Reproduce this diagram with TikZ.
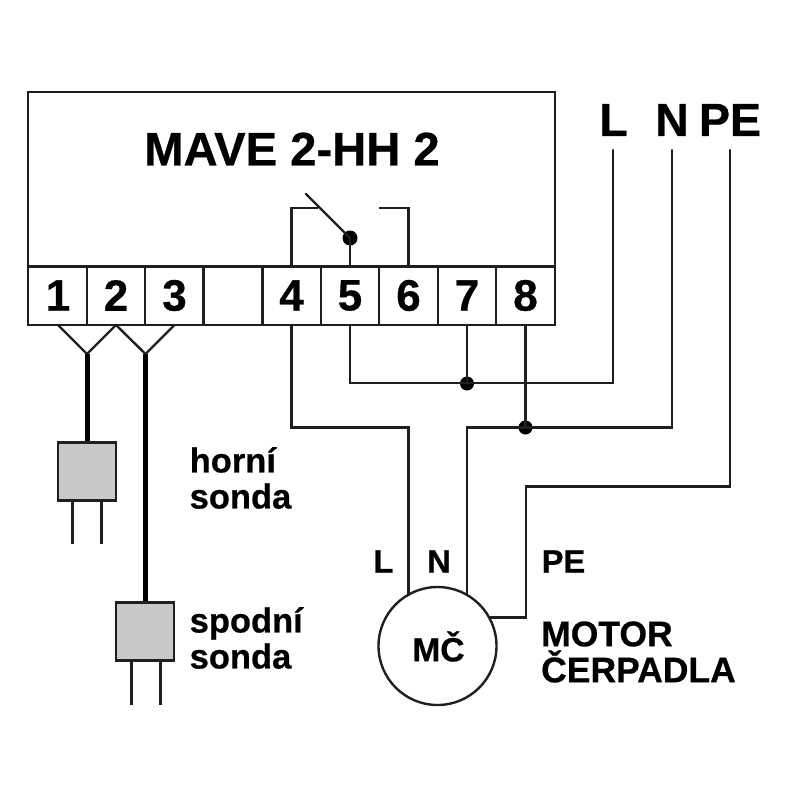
\documentclass[tikz,border=0pt]{standalone}
\usepackage{fontspec}
\setmainfont[BoldFeatures={FakeBold=0.6}]{Liberation Sans}
\begin{document}
\begin{tikzpicture}[x=1pt,y=-1pt,
  wire/.style={line width=2.4pt,line cap=round,line join=miter,draw=black!88},
  thick wire/.style={line width=5pt,draw=black},
  frame/.style={line width=2.4pt,draw=black!88},
  dot/.style={circle,fill=black,inner sep=0pt,minimum size=#1},
  probe/.style={draw=black!88,line width=2.4pt,fill=black!21,minimum size=58pt,inner sep=0pt},
  lbl/.style={font=\bfseries\fontsize{#1}{#1}\selectfont,text=black,inner sep=0pt}]
\useasboundingbox (0,0) rectangle (800,800);
% device
\node[draw=black!88,line width=2.4pt,minimum width=527pt,minimum height=233pt,inner sep=0pt] (dev) at (291.5,208.5) {};
\draw[frame] (28,266.5) -- (555,266.5);
\foreach \x in {87,145,203.5,262.5,321,379,438,496}
  \draw[frame] (\x,266.5) -- (\x,325);
\node[lbl=47.2] (title) at (292,149) {MAVE 2-HH 2};
\foreach \n/\x in {1/58,2/116,3/174.5,4/291.5,5/350,6/408.5,7/467,8/525.5}{
  \node[lbl=44] (t\n) at (\x,295.5) {\n};
  \coordinate (b\n) at (\x,325);
  \coordinate (u\n) at (\x,266.5);
}
% contact
\node[dot=15pt] (cdot) at (350,238) {};
\coordinate (arm) at (306,194);
\draw[wire] (cdot.center) -- (arm);
\draw[wire] (u5) -- (cdot.center);
\draw[wire,line cap=butt] (u4) -- (291.5,208) -- (318,208);
\draw[wire,line cap=butt] (u6) -- (408.5,208) -- (379,208);
% probes
\coordinate (y1) at (87,354);
\coordinate (y2) at (145.5,354);
\node[probe] (p1) at (87,471.5) {};
\node[probe] (p2) at (145,631.5) {};
\draw[wire] (b1) -- (y1) -- (b2);
\draw[wire] (b2) -- (y2) -- (b3);
\draw[thick wire] (y1) -- (p1.north);
\draw[thick wire] (y2) -- (p2.north -| y2);
\draw[wire,line cap=butt] (72.5,500.5) -- (72.5,544);
\draw[wire,line cap=butt] (101.5,500.5) -- (101.5,544);
\draw[wire,line cap=butt] (131.5,660.5) -- (131.5,705);
\draw[wire,line cap=butt] (160.5,660.5) -- (160.5,705);
% motor
\node[circle,draw=black!88,line width=2.4pt,minimum size=118pt,inner sep=0pt] (m) at (437.5,646) {};
\node[lbl=33.5] (mc) at (438.5,646.5) {MČ};
% supply
\node[lbl=46.5] (L) at (613.5,120) {L};
\node[lbl=46.5] (N) at (672,120) {N};
\node[lbl=46.5] (PE) at (730,120) {PE};
\coordinate (Lb) at (613,150);
\coordinate (Nb) at (672,150);
\coordinate (Pb) at (730,150);
\node[dot=14pt] (d7) at (467,383.5) {};
\node[dot=14pt] (d8) at (525.5,427.5) {};
\draw[wire] (b5) -- (350,383) -- (613,383) -- (Lb);
\draw[wire] (b7) -- (d7.center);
\draw[wire] (b8) -- (d8.center);
\draw[wire] (Nb) -- (672,427.5) -- (467,427.5) -- (467,595);
\draw[wire] (b4) -- (291.5,427.5) -- (408.5,427.5) -- (408.5,595);
\draw[wire] (Pb) -- (730,486.5) -- (526,486.5) -- (526,617.5) -- (490,617.5);
% labels
\node[lbl=32.5] (mL) at (383.5,561.5) {L};
\node[lbl=32.5] (mN) at (439,561.5) {N};
\node[lbl=32.5] (mP) at (563.5,561.5) {PE};
\node[font=\bfseries\fontsize{35.5}{36}\selectfont,align=left,inner sep=0pt,anchor=west] (mot) at (541,652) {MOTOR\\ČERPADLA};
\node[font=\bfseries\fontsize{34.5}{36}\selectfont,align=left,inner sep=0pt,anchor=west] (hs) at (189.5,478) {horní\\sonda};
\node[font=\bfseries\fontsize{34.5}{36}\selectfont,align=left,inner sep=0pt,anchor=west] (ss) at (189.5,638) {spodní\\sonda};
\end{tikzpicture}
\end{document}
